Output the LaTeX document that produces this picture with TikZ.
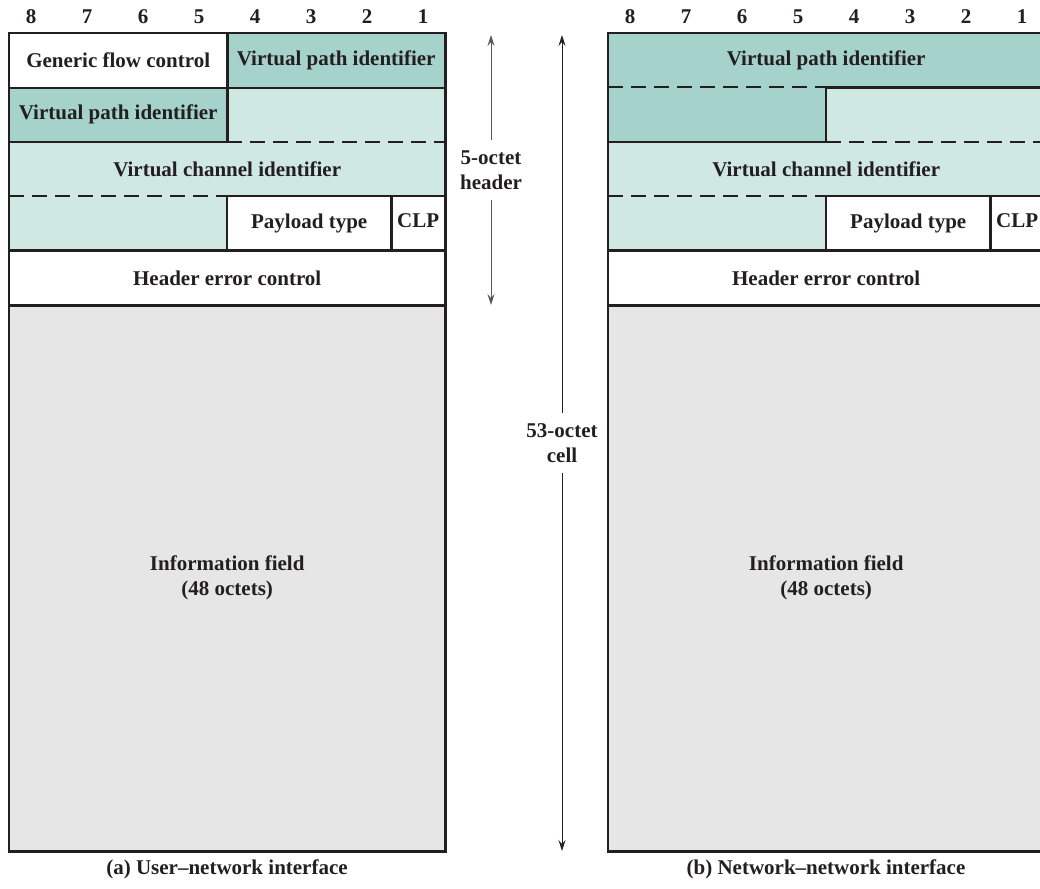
\documentclass[tikz,border=0pt]{standalone}
\usepackage{fontspec}
\setmainfont{Liberation Serif}
\usetikzlibrary{arrows.meta}
\definecolor{vpidark}{HTML}{A5D2CB}
\definecolor{vcilight}{HTML}{D0E8E2}
\definecolor{infogrey}{HTML}{E6E6E6}
\definecolor{rulecol}{HTML}{231F20}

\tikzset{
	field/.style={rectangle,inner sep=0pt,anchor=north west,minimum height=54.4pt,
		font=\fontsize{21}{25}\selectfont\bfseries,text=rulecol},
	fullfield/.style={field,minimum width=436pt},
	halffield/.style={field,minimum width=218pt},
	ptfield/.style={field,minimum width=164pt},
	clpfield/.style={field,minimum width=54pt},
	bitnum/.style={font=\fontsize{21}{24}\selectfont\bfseries,text=rulecol},
	solidrule/.style={draw=rulecol,line width=2.4pt},
	dashrule/.style={draw=rulecol,line width=2pt,dash pattern=on 15pt off 8pt},
	sizearrow/.style={draw=rulecol,line width=0.9pt,-{Stealth[length=11pt,width=7pt,inset=4pt]}},
	caption/.style={font=\fontsize{21}{25}\selectfont\bfseries,text=rulecol}
}

\begin{document}
\begin{tikzpicture}[x=1pt,y=-1pt]
	\useasboundingbox (0,0) rectangle (1040,888);
	\clip (0,0) rectangle (1040,888);

	% bit numbers
	\foreach \b [count=\i from 0] in {8,7,6,5,4,3,2,1} {
		\node[bitnum] (bitA\b) at (31+56*\i,17) {\b};
		\node[bitnum] (bitB\b) at (630+56*\i,17) {\b};
	}

	% (a) user-network interface
	\node[halffield,fill=white] (gfcA) at (9,33) {Generic flow control};
	\node[halffield,fill=vpidark] (vpiA) at (227,33) {Virtual path identifier};
	\node[halffield,fill=vpidark] (vpiAlo) at (9,87.4) {Virtual path identifier};
	\node[halffield,fill=vcilight] (vpiArest) at (227,87.4) {};
	\node[fullfield,fill=vcilight] (vciA) at (9,141.8) {Virtual channel identifier};
	\node[halffield,fill=vcilight] (vciArest) at (9,196.2) {};
	\node[ptfield,fill=white] (ptA) at (227,196.2) {Payload type};
	\node[clpfield,fill=white,text depth=6pt] (clpA) at (391,196.2) {CLP};
	\node[fullfield,fill=white] (hecA) at (9,250.6) {Header error control};
	\node[fullfield,fill=infogrey,minimum height=546pt,align=center] (infoA) at (9,305)
		{Information field\\(48 octets)};

	\draw[solidrule] (gfcA.north east) -- (vpiAlo.south east);
	\draw[solidrule] (gfcA.south west) -- (vpiA.south east);
	\draw[solidrule] (vpiAlo.south west) -- (vpiAlo.south east);
	\draw[dashrule] (vpiArest.south west) -- (vpiArest.south east);
	\draw[dashrule] (vciArest.north west) -- (vciArest.north east);
	\draw[solidrule] (ptA.north west) -- (clpA.north east);
	\draw[solidrule] (ptA.north west) -- (ptA.south west);
	\draw[solidrule] (ptA.north east) -- (ptA.south east);
	\draw[solidrule] (hecA.north west) -- (hecA.north east);
	\draw[solidrule] (hecA.south west) -- (hecA.south east);
	\draw[solidrule] (gfcA.north west) rectangle (infoA.south east);

	% (b) network-network interface
	\node[fullfield,fill=vpidark] (vpiB) at (608,33) {Virtual path identifier};
	\node[halffield,fill=vpidark] (vpiBlo) at (608,87.4) {};
	\node[halffield,fill=vcilight] (vpiBrest) at (826,87.4) {};
	\node[fullfield,fill=vcilight] (vciB) at (608,141.8) {Virtual channel identifier};
	\node[halffield,fill=vcilight] (vciBrest) at (608,196.2) {};
	\node[ptfield,fill=white] (ptB) at (826,196.2) {Payload type};
	\node[clpfield,fill=white,text depth=6pt] (clpB) at (990,196.2) {CLP};
	\node[fullfield,fill=white] (hecB) at (608,250.6) {Header error control};
	\node[fullfield,fill=infogrey,minimum height=546pt,align=center] (infoB) at (608,305)
		{Information field\\(48 octets)};

	\draw[dashrule] (vpiBlo.north west) -- (vpiBlo.north east);
	\draw[solidrule] (vpiBrest.north west) -- (vpiBrest.north east);
	\draw[solidrule] (vpiBrest.north west) -- (vpiBrest.south west);
	\draw[solidrule] (vpiBlo.south west) -- (vpiBlo.south east);
	\draw[dashrule] (vpiBrest.south west) -- (vpiBrest.south east);
	\draw[dashrule] (vciBrest.north west) -- (vciBrest.north east);
	\draw[solidrule] (ptB.north west) -- (clpB.north east);
	\draw[solidrule] (ptB.north west) -- (ptB.south west);
	\draw[solidrule] (ptB.north east) -- (ptB.south east);
	\draw[solidrule] (hecB.north west) -- (hecB.north east);
	\draw[solidrule] (hecB.south west) -- (hecB.south east);
	\draw[solidrule] (vpiB.north west) rectangle (infoB.south east);

	% size labels
	\coordinate (hdrTop) at (491,35);
	\coordinate (hdrBot) at (491,305);
	\node[caption,align=center,inner ysep=10pt] (hdr) at (491,170) {5-octet\\header};
	\draw[sizearrow,draw=rulecol!75] (hdr.north) -- (hdrTop);
	\draw[sizearrow,draw=rulecol!75] (hdr.south) -- (hdrBot);

	\coordinate (cellTop) at (562,35);
	\coordinate (cellBot) at (562,851);
	\node[caption,align=center,inner ysep=10pt] (cell) at (562,443) {53-octet\\cell};
	\draw[sizearrow] (cell.north) -- (cellTop);
	\draw[sizearrow] (cell.south) -- (cellBot);

	% captions
	\node[caption] (capA) at (227,869) {(a) User--network interface};
	\node[caption] (capB) at (826,869) {(b) Network--network interface};
\end{tikzpicture}
\end{document}
